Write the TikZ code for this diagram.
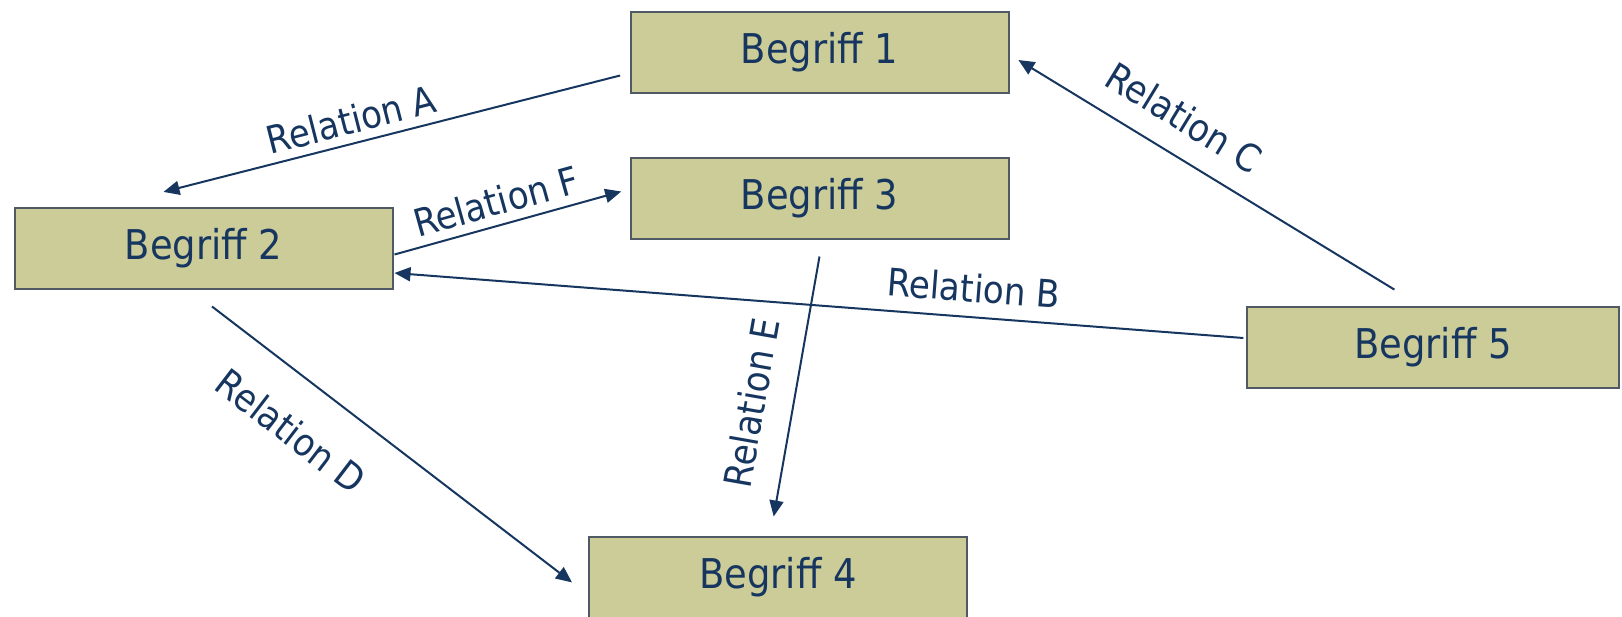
\documentclass[tikz,border=0pt]{standalone}
\usepackage{fontspec}
\setmainfont{DejaVu Sans Condensed}
\usetikzlibrary{arrows.meta}
\definecolor{begrgelb}{RGB}{204,204,153}
\definecolor{begrrand}{RGB}{80,90,100}
\definecolor{relblau}{RGB}{22,54,96}
\tikzset{
  begr_box/.style = {rectangle, draw=begrrand, fill=begrgelb, line width=1pt,
    minimum width=189pt, minimum height=40.5pt, inner sep=0pt,
    text=relblau, font=\fontsize{20.5}{24}\selectfont},% Begriff, Kasten
  rel_pfeil/.style = {-{Triangle[length=8pt,width=7pt]}, draw=relblau,
    line width=1pt},% Relation, Pfeil
  rel_text/.style = {sloped, inner sep=0pt, text=relblau,
    font=\fontsize{19}{22}\selectfont}% Relation, Beschriftung
}
\begin{document}
\begin{tikzpicture}[x=0.5pt, y=-0.5pt]
  \useasboundingbox (0,0) rectangle (1622,616);
  % Begriffe
  \node [begr_box] (b1) at (819.5,52) {Begriff 1};
  \node [begr_box] (b2) at (203.5,248) {Begriff 2};
  \node [begr_box] (b3) at (819.5,198.5) {Begriff 3};
  \node [begr_box] (b4) at (778,577) {Begriff 4};
  \node [begr_box, minimum width=186pt] (b5) at (1433,347.5) {Begriff 5};
  % Relationen
  \draw [rel_pfeil] ([xshift=-4.7pt,yshift=-11.75pt]b1.west)
    -- node [rel_text, pos=0.576, above=4pt] {Relation A}
    ([xshift=-20pt,yshift=7.3pt]b2.north);
  \draw [rel_pfeil] ([xshift=0.5pt,yshift=-3.25pt]b2.east)
    -- node [rel_text, pos=0.476, above=4.2pt] {Relation F}
    ([xshift=-4.15pt,yshift=3.5pt]b3.west);
  \draw [rel_pfeil] ([xshift=-19.3pt,yshift=8.2pt]b5.north)
    -- node [rel_text, pos=0.612, above=10.8pt] {Relation C}
    ([xshift=4.45pt,yshift=-4pt]b1.east);
  \draw [rel_pfeil] ([xshift=-1.3pt,yshift=4.75pt]b5.west)
    -- node [rel_text, pos=0.32, above=6.8pt] {Relation B}
    ([xshift=0.5pt,yshift=-12.5pt]b2.east);
  \draw [rel_pfeil] ([xshift=4.25pt,yshift=-8.5pt]b2.south)
    -- node [rel_text, pos=0.306, below=17.5pt] {Relation D}
    ([xshift=-8pt,yshift=-2.7pt]b4.west);
  \draw [rel_pfeil] ([yshift=-8.25pt]b3.south)
    -- node [rel_text, pos=0.59, above=13pt] {Relation E}
    ([xshift=-2.15pt,yshift=9.5pt]b4.north);
\end{tikzpicture}
\end{document}
